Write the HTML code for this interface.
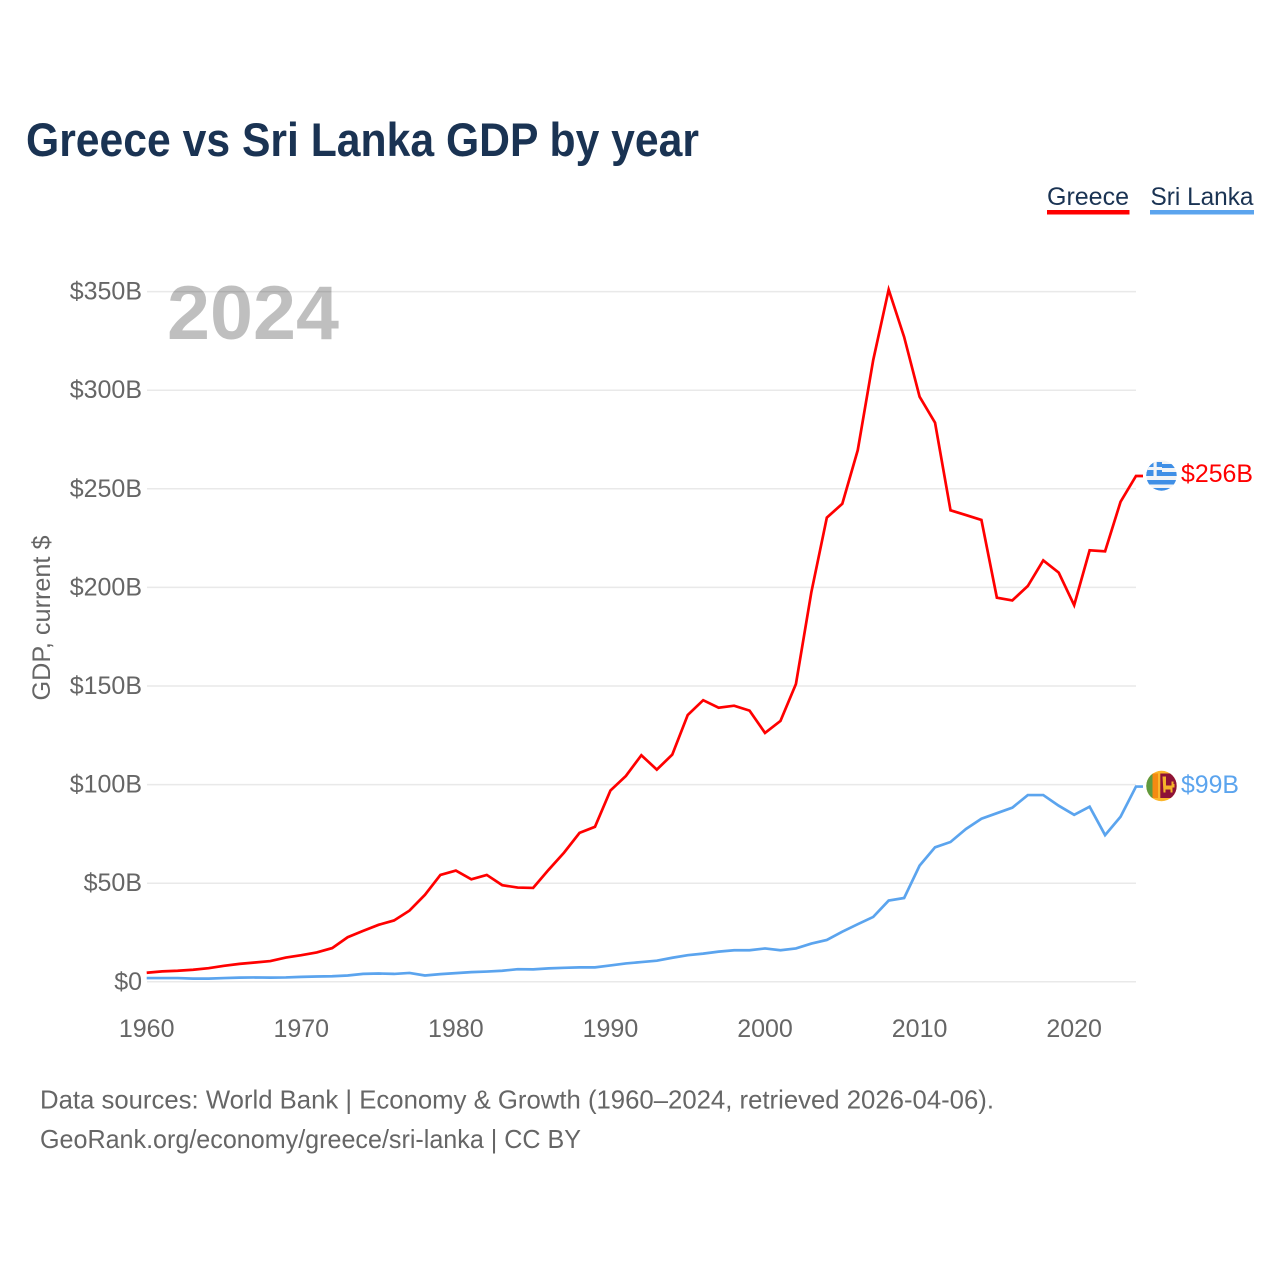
<!DOCTYPE html>
<html lang="en">
<head>
<meta charset="utf-8">
<title>Greece vs Sri Lanka GDP by year</title>
<style>
html,body{margin:0;padding:0;background:#fff;}
svg{display:block;font-family:"Liberation Sans",sans-serif;}
</style>
</head>
<body>
<svg id="chart" xmlns="http://www.w3.org/2000/svg" width="1280" height="1280" viewBox="0 0 1280 1280">
  <defs>
    <clipPath id="clip-gr"><circle cx="1161.5" cy="475.5" r="15.2"/></clipPath>
    <clipPath id="clip-lk"><circle cx="1161.5" cy="786" r="15.2"/></clipPath>
  </defs>
  <rect width="1280" height="1280" fill="#fff"/>
  <text x="26" y="156" font-size="47" font-weight="700" fill="#1a3353" textLength="673" lengthAdjust="spacingAndGlyphs">Greece vs Sri Lanka GDP by year</text>

  <g>
    <text x="1047" y="205" font-size="25" fill="#1a3353" textLength="82" lengthAdjust="spacingAndGlyphs">Greece</text>
    <rect x="1047" y="210" width="82.5" height="4.5" fill="#ff0000"/>
    <text x="1150.5" y="205" font-size="25" fill="#1a3353" textLength="103" lengthAdjust="spacingAndGlyphs">Sri Lanka</text>
    <rect x="1150" y="210" width="104" height="4.5" fill="#5ba4ee"/>
  </g>

  <g id="grid"></g>
  <g id="y-ticks"></g>
  <g id="x-ticks"></g>

  <text transform="translate(50,618) rotate(-90)" text-anchor="middle" font-size="25" fill="#666" textLength="165" lengthAdjust="spacingAndGlyphs">GDP, current $</text>
  <text x="167" y="339" font-size="76" font-weight="700" fill="#000" fill-opacity="0.25" textLength="172" lengthAdjust="spacingAndGlyphs">2024</text>

  <g id="series"></g>

  <g clip-path="url(#clip-gr)">
    <rect x="1146" y="460" width="31" height="31" fill="#f2f4f6"/>
    <rect x="1146" y="464" width="31" height="4" fill="#3f8fe6"/>
    <rect x="1146" y="472" width="31" height="4" fill="#3f8fe6"/>
    <rect x="1146" y="480" width="31" height="4.5" fill="#3f8fe6"/>
    <rect x="1146" y="488" width="31" height="3" fill="#3f8fe6"/>
    <rect x="1146" y="462" width="16" height="14" fill="#3f8fe6"/>
    <rect x="1146" y="467" width="16" height="3" fill="#f2f4f6"/>
    <rect x="1153.5" y="462" width="3.2" height="14" fill="#f2f4f6"/>
  </g>
  <text id="label-greece" x="1181" y="482" font-size="25" fill="#ff0000" textLength="72" lengthAdjust="spacingAndGlyphs">$256B</text>

  <g clip-path="url(#clip-lk)">
    <rect x="1146" y="770" width="31" height="32" fill="#fbb62c"/>
    <rect x="1146" y="773.5" width="6.5" height="24.5" fill="#5f9a3f"/>
    <rect x="1152.5" y="773.5" width="5.5" height="24.5" fill="#f58a12"/>
    <rect x="1160.3" y="773.5" width="16.5" height="24.5" fill="#8e1237"/>
    <path d="M1162.5 776.5h3.5v9h5.5v-4h2v2.5h1v3.5h-2v5h-2v-3h-5v3h-2z" fill="#f5b32a"/>
  </g>
  <text id="label-lk" x="1181" y="793" font-size="25" fill="#5ba4ee" textLength="58" lengthAdjust="spacingAndGlyphs">$99B</text>

  <g font-size="26" fill="#666">
    <text x="40" y="1108.5" textLength="954" lengthAdjust="spacingAndGlyphs">Data sources: World Bank | Economy &amp; Growth (1960–2024, retrieved 2026-04-06).</text>
    <text x="40" y="1148" textLength="541" lengthAdjust="spacingAndGlyphs">GeoRank.org/economy/greece/sri-lanka | CC BY</text>
  </g>
</svg>
<script>
const years = [1960,1961,1962,1963,1964,1965,1966,1967,1968,1969,1970,1971,1972,1973,1974,1975,1976,1977,1978,1979,1980,1981,1982,1983,1984,1985,1986,1987,1988,1989,1990,1991,1992,1993,1994,1995,1996,1997,1998,1999,2000,2001,2002,2003,2004,2005,2006,2007,2008,2009,2010,2011,2012,2013,2014,2015,2016,2017,2018,2019,2020,2021,2022,2023,2024];
const greece = [4.6,5.3,5.6,6.1,6.9,8.1,9.1,9.8,10.5,12.3,13.5,14.9,17.1,22.6,25.8,28.9,31.1,36.1,44.1,54.2,56.4,52.0,54.2,49.0,47.8,47.6,56.8,65.5,75.5,78.6,97.0,104.4,114.9,107.6,115.2,135.3,142.8,139.0,140.0,137.5,126.2,132.3,151.0,197.7,235.4,242.4,269.6,315.3,351.0,327.0,296.7,283.5,239.1,236.7,234.2,194.8,193.4,200.7,213.7,207.5,191.0,218.8,218.3,243.4,256.5];
const sriLanka = [1.9,1.9,1.9,1.6,1.6,1.9,2.1,2.2,2.1,2.2,2.5,2.7,2.8,3.2,4.0,4.2,4.0,4.5,3.2,3.9,4.4,4.9,5.2,5.6,6.4,6.3,6.8,7.1,7.3,7.3,8.3,9.3,10.0,10.7,12.2,13.5,14.3,15.3,16.0,16.0,16.9,16.0,16.9,19.4,21.2,25.4,29.2,32.9,41.2,42.5,58.9,68.2,70.9,77.5,82.7,85.5,88.3,94.7,94.7,89.3,84.7,88.8,74.4,83.7,99.0];
const yTickValues = [0,50,100,150,200,250,300,350];
const yTickLabels = ["$0","$50B","$100B","$150B","$200B","$250B","$300B","$350B"];
const xTickYears = [1960,1970,1980,1990,2000,2010,2020];

const SVG_NS = "http://www.w3.org/2000/svg";
function xScale(year){ return 146.7 + (year - 1960) * (1136 - 146.7) / 64; }
function yScale(v){ return 981.8 - v * 1.972; }
function make(tag, parentId){
  const el = document.createElementNS(SVG_NS, tag);
  document.getElementById(parentId).appendChild(el);
  return el;
}

yTickValues.forEach(function(v, i){
  const line = make("line", "grid");
  
  
  line.setAttribute("x1", 147);
  line.setAttribute("x2", 1136);
  line.setAttribute("y1", yScale(v));
  line.setAttribute("y2", yScale(v));
  line.setAttribute("stroke", "#e9e9e9");
  line.setAttribute("stroke-width", "1.5");

  const label = make("text", "y-ticks");
  
  
  label.setAttribute("x", 142);
  label.setAttribute("y", yScale(v) + 8);
  label.setAttribute("text-anchor", "end");
  label.setAttribute("font-size", "25");
  label.setAttribute("fill", "#666");
  label.textContent = yTickLabels[i];
});

xTickYears.forEach(function(year){
  const label = make("text", "x-ticks");
  
  
  label.setAttribute("x", xScale(year));
  label.setAttribute("y", 1037);
  label.setAttribute("text-anchor", "middle");
  label.setAttribute("font-size", "25");
  label.setAttribute("fill", "#666");
  label.textContent = String(year);
});

function linePath(values){
  let d = values.map(function(v, i){
    return (i ? "L" : "M") + xScale(years[i]).toFixed(2) + " " + yScale(v).toFixed(2);
  }).join("");
  const last = values.length - 1;
  d += "L" + (xScale(years[last]) + 7).toFixed(2) + " " + yScale(values[last]).toFixed(2);
  return d;
}

const greeceLine = make("path", "series");


greeceLine.setAttribute("d", linePath(greece));
greeceLine.setAttribute("fill", "none");
greeceLine.setAttribute("stroke", "#ff0000");
greeceLine.setAttribute("stroke-width", "2.7");
greeceLine.setAttribute("stroke-linejoin", "miter");

const sriLankaLine = make("path", "series");


sriLankaLine.setAttribute("d", linePath(sriLanka));
sriLankaLine.setAttribute("fill", "none");
sriLankaLine.setAttribute("stroke", "#5ba4ee");
sriLankaLine.setAttribute("stroke-width", "2.7");
sriLankaLine.setAttribute("stroke-linejoin", "miter");
</script>
</body>
</html>
